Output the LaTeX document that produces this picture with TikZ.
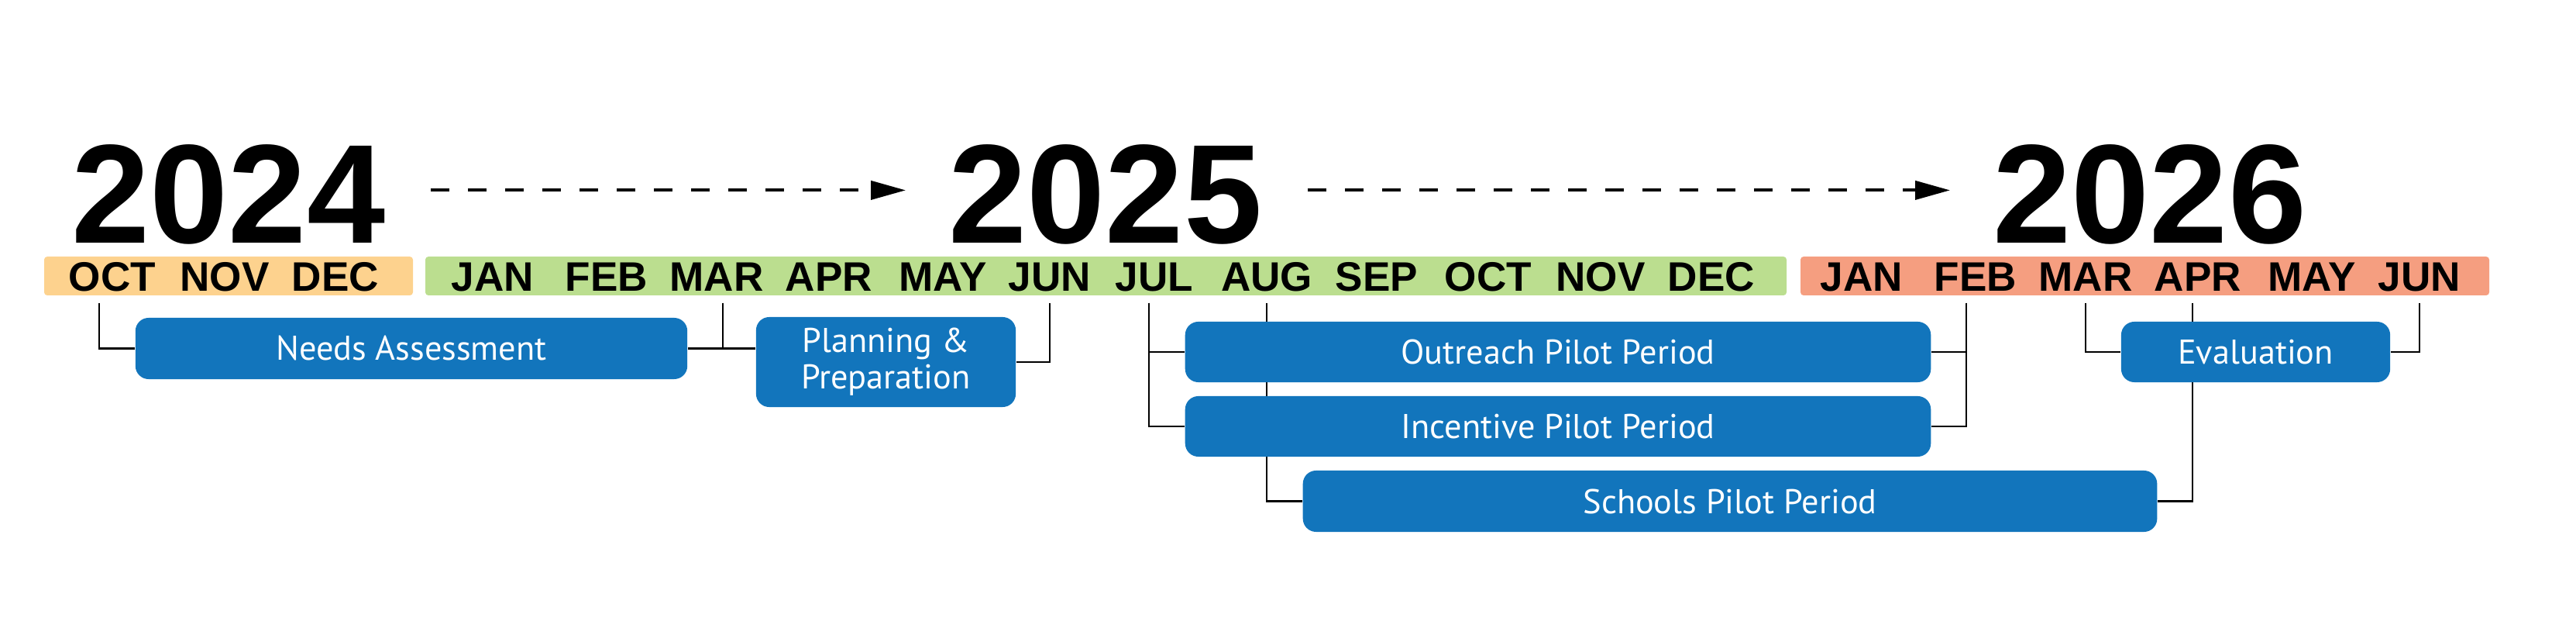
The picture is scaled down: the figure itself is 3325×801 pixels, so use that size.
\documentclass[tikz,border=0pt]{standalone}
\usepackage{fontspec}
\setmainfont{Liberation Sans}
\newfontfamily\boxfont{PT Sans}
\usetikzlibrary{arrows.meta,backgrounds}

\definecolor{barorange}{HTML}{FDD28E}
\definecolor{bargreen}{HTML}{BBDE8F}
\definecolor{barsalmon}{HTML}{F59E80}
\definecolor{boxblue}{HTML}{1275BC}

\begin{document}
\begin{tikzpicture}[x=0.01cm,y=-0.01cm]
  \tikzstyle{year}=[font=\fontsize{51.7}{52}\selectfont\bfseries,inner sep=0,anchor=base]
  \tikzstyle{month}=[font=\fontsize{15.1}{16}\selectfont\bfseries,inner sep=0,text height=0.38cm,text depth=0.05cm,anchor=base]
  \tikzstyle{box}=[rounded corners=0.17cm,fill=boxblue,text=white,inner sep=0,align=center,font=\boxfont\fontsize{12.6}{13.4}\selectfont]
  \tikzstyle{link}=[line width=0.027cm,shorten <=0.09cm]
  \tikzstyle{dasharrow}=[line width=0.04cm,dash pattern=on 0.24cm off 0.24cm,-{Triangle[length=0.45cm,width=0.24cm]},shorten <=0.58cm,shorten >=0.55cm]
  \useasboundingbox (0,0) rectangle (3325,801);

  \node[year] (Y_1) at (295,314) {2024};
  \node[year] (Y_2) at (1427,314) {2025};
  \node[year] (Y_3) at (2775,314) {2026};

  \draw[dasharrow] ([yshift=0.06cm]Y_1.east) -- ([yshift=0.06cm]Y_2.west);
  \draw[dasharrow] ([yshift=0.06cm]Y_2.east) -- ([yshift=0.06cm]Y_3.west);

  \fill[barorange,rounded corners=0.04cm] (57,331) rectangle (533,381);
  \fill[bargreen,rounded corners=0.04cm] (549,331) rectangle (2306,381);
  \fill[barsalmon,rounded corners=0.04cm] (2324,331) rectangle (3213,381);

  \node[month] (M_1) at (145,376) {OCT};
  \node[month] (M_2) at (290,376) {NOV};
  \node[month] (M_3) at (433,376) {DEC};
  \node[month] (M_4) at (636,376) {JAN};
  \node[month] (M_5) at (783,376) {FEB};
  \node[month] (M_6) at (925,376) {MAR};
  \node[month] (M_7) at (1070,376) {APR};
  \node[month] (M_8) at (1217,376) {MAY};
  \node[month] (M_9) at (1355,376) {JUN};
  \node[month] (M_10) at (1490,376) {JUL};
  \node[month] (M_11) at (1635,376) {AUG};
  \node[month] (M_12) at (1777,376) {SEP};
  \node[month] (M_13) at (1921,376) {OCT};
  \node[month] (M_14) at (2066,376) {NOV};
  \node[month] (M_15) at (2209,376) {DEC};
  \node[month] (M_16) at (2403,376) {JAN};
  \node[month] (M_17) at (2550,376) {FEB};
  \node[month] (M_18) at (2692,376) {MAR};
  \node[month] (M_19) at (2837,376) {APR};
  \node[month] (M_20) at (2984,376) {MAY};
  \node[month] (M_21) at (3123,376) {JUN};

  \node[box,minimum width=7.12cm,minimum height=0.79cm] (B_1) at (531,449.5) {Needs Assessment};
  \node[box,minimum width=3.35cm,minimum height=1.16cm] (B_2) at (1143.5,467) {Planning \&\\Preparation};
  \node[box,minimum width=9.62cm,minimum height=0.78cm] (B_3) at (2011,454) {Outreach Pilot Period};
  \node[box,minimum width=9.62cm,minimum height=0.78cm] (B_4) at (2011,550) {Incentive Pilot Period};
  \node[box,minimum width=11.02cm,minimum height=0.79cm] (B_5) at (2233,646.5) {Schools Pilot Period};
  \node[box,minimum width=3.47cm,minimum height=0.78cm] (B_6) at (2911.5,454) {Evaluation};

  \begin{scope}[on background layer]
    \draw[link] ([xshift=-0.17cm]M_1.south) |- (B_1.west);
    \draw[link] ([xshift=0.08cm]M_6.south) |- (B_1.east);
    \draw[link] ([xshift=0.08cm]M_6.south) |- (B_2.west |- B_1.east);
    \draw[link] (M_9.south) |- (B_2.east);
    \draw[link] ([xshift=-0.07cm]M_10.south) |- (B_3.west);
    \draw[link] ([xshift=-0.07cm]M_10.south) |- (B_4.west);
    \draw[link] (M_11.south) |- (B_5.west);
    \draw[link] ([xshift=-0.12cm]M_17.south) |- (B_3.east);
    \draw[link] ([xshift=-0.12cm]M_17.south) |- (B_4.east);
    \draw[link] (M_18.south) |- (B_6.west);
    \draw[link] ([xshift=-0.07cm]M_19.south) |- (B_5.east);
    \draw[link] (M_21.south) |- (B_6.east);
  \end{scope}
\end{tikzpicture}
\end{document}
